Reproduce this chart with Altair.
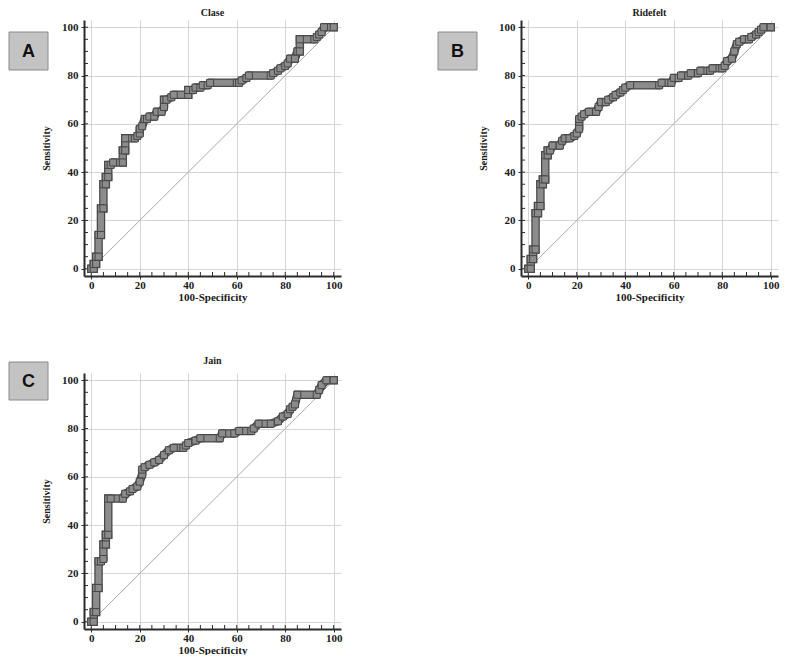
import altair as alt
import pandas as pd

# ---- data (100-Specificity, Sensitivity) ----
clase_x = [0, 1, 1, 2, 2, 3, 3, 4, 4, 5, 5, 6, 6, 7, 7, 8, 9, 13, 13, 14, 14, 18, 19, 20, 20, 21, 22, 23, 24, 26, 27, 29, 30, 30, 31, 33, 34, 40, 40, 42, 43, 45, 46, 48, 49, 60, 61, 62, 64, 65, 74, 75, 77, 78, 80, 81, 82, 84, 85, 86, 86, 92, 93, 94, 95, 96, 100]
clase_y = [0, 0, 2, 2, 5, 5, 14, 14, 25, 25, 35, 35, 38, 38, 43, 43, 44, 44, 49, 49, 54, 54, 55, 56, 58, 59, 62, 62, 63, 63, 65, 65, 67, 70, 70, 71, 72, 72, 74, 74, 75, 75, 76, 76, 77, 77, 77, 78, 79, 80, 80, 81, 82, 83, 84, 85, 87, 87, 90, 90, 95, 95, 96, 97, 98, 100, 100]

ridefelt_x = [0, 1, 1, 2, 2, 3, 3, 4, 4, 5, 5, 6, 6, 7, 7, 8, 8, 9, 10, 13, 14, 15, 17, 19, 20, 21, 21, 22, 23, 25, 28, 29, 30, 32, 33, 35, 36, 38, 39, 40, 42, 54, 55, 59, 60, 62, 63, 66, 67, 70, 71, 75, 76, 80, 81, 82, 84, 85, 86, 87, 89, 91, 92, 94, 95, 96, 97, 100]
ridefelt_y = [0, 0, 4, 4, 8, 8, 23, 23, 26, 26, 35, 35, 37, 37, 47, 47, 49, 49, 51, 51, 53, 54, 54, 55, 56, 58, 62, 63, 64, 65, 65, 67, 69, 69, 70, 71, 72, 73, 74, 75, 76, 76, 77, 77, 79, 79, 80, 80, 81, 81, 82, 82, 83, 83, 84, 86, 87, 90, 93, 94, 95, 95, 96, 97, 98, 99, 100, 100]

jain_x = [0, 1, 1, 2, 2, 3, 3, 4, 5, 5, 6, 6, 7, 7, 8, 13, 14, 16, 17, 19, 20, 21, 21, 22, 24, 26, 28, 30, 32, 34, 38, 39, 40, 43, 45, 53, 54, 59, 61, 66, 67, 69, 74, 77, 79, 81, 82, 83, 84, 85, 93, 94, 95, 97, 100]
jain_y = [0, 0, 4, 4, 14, 14, 25, 25, 26, 32, 32, 36, 36, 51, 51, 51, 53, 54, 55, 56, 58, 61, 63, 64, 65, 66, 67, 69, 71, 72, 72, 73, 74, 75, 76, 76, 78, 78, 79, 79, 80, 82, 82, 83, 85, 86, 88, 89, 90, 94, 94, 96, 98, 100, 100]

tick_values = [0, 20, 40, 60, 80, 100]
minor_values = [5, 10, 15, 25, 30, 35, 45, 50, 55, 65, 70, 75, 85, 90, 95]

W, H = 257, 256
DOM = [-3, 103]
SERIF = "Liberation Serif"
DARK = "#474747"
LIGHT = "#8c8c8c"


def panel(title, xs, ys, letter, box_left, box_top, title_offset):
    df = pd.DataFrame({"fpr": xs, "tpr": ys, "order": list(range(len(xs)))})
    xsc = alt.Scale(domain=DOM, nice=False, zero=False)
    ysc = alt.Scale(domain=DOM, nice=False, zero=False)
    common_axis = dict(
        values=tick_values, grid=True, gridColor="#d6d6d6", gridWidth=1,
        domainColor="#2b2b2b", domainWidth=2, tickColor="#2b2b2b", tickSize=3,
        labelFont=SERIF, labelFontWeight="bold", labelFontSize=11, labelColor="#1a1a1a",
        titleFont=SERIF, titleFontWeight="bold", titleColor="#1a1a1a",
    )
    xenc = alt.X("fpr:Q", scale=xsc,
                 axis=alt.Axis(title="100-Specificity", titleFontSize=11, labelPadding=0,
                               titlePadding=1, **common_axis))
    yenc = alt.Y("tpr:Q", scale=ysc,
                 axis=alt.Axis(title="Sensitivity", titleFontSize=10, labelPadding=3,
                               titlePadding=10, **common_axis))

    diag = alt.Chart(pd.DataFrame({"fpr": [0, 100], "tpr": [0, 100]})).mark_line(
        color="#a8a8a8", strokeWidth=1).encode(x=xenc, y=yenc)

    ymin = alt.Chart(pd.DataFrame({"tpr": minor_values + tick_values})).mark_rule(
        color="#2b2b2b", strokeWidth=1).encode(y=yenc, x=alt.value(0), x2=alt.value(4))
    xmin = alt.Chart(pd.DataFrame({"fpr": minor_values + tick_values})).mark_rule(
        color="#2b2b2b", strokeWidth=1).encode(x=xenc, y=alt.value(H), y2=alt.value(H - 4))

    base = alt.Chart(df)
    outer = base.mark_line(color=DARK, strokeWidth=8.5, strokeCap="square",
                           strokeJoin="miter").encode(x=xenc, y=yenc, order="order:Q")
    inner = base.mark_line(color=LIGHT, strokeWidth=6, strokeCap="square",
                           strokeJoin="miter").encode(x=xenc, y=yenc, order="order:Q")
    squares = base.mark_square(size=49, fill=LIGHT, stroke=DARK, strokeWidth=1,
                               opacity=1).encode(x=xenc, y=yenc)

    lab = pd.DataFrame({"k": [letter]})
    box = alt.Chart(lab).mark_rect(fill="#c3c3c3", stroke="#8a8a8a", strokeWidth=1).encode(
        x=alt.value(box_left), x2=alt.value(box_left + 39),
        y=alt.value(box_top), y2=alt.value(box_top + 38))
    txt = alt.Chart(lab).mark_text(font="Liberation Sans", fontWeight="bold", fontSize=18,
                                   color="#111111", align="center", baseline="middle").encode(
        x=alt.value(box_left + 19.5), y=alt.value(box_top + 20), text="k:N")

    return alt.layer(diag, ymin, xmin, outer, inner, squares, box, txt).properties(
        width=W, height=H,
        title=alt.TitleParams(text=title, font=SERIF, fontSize=10, fontWeight="bold",
                              color="#1a1a1a", offset=title_offset, anchor="middle",
                              frame="group"),
    )


pA = panel("Clase", clase_x, clase_y, "A", -75, 12, -8)
pB = panel("Ridefelt", ridefelt_x, ridefelt_y, "B", -83, 12, -8)
pC = panel("Jain", jain_x, jain_y, "C", -75, -11, -4)

chart = alt.concat(pA, pB, pC, columns=2, spacing={"row": 97, "column": 180},
                   bounds="flush").properties(padding=0).configure_view(strokeWidth=0)

chart.save("out.html", embed_options={"renderer": "svg", "actions": False})
